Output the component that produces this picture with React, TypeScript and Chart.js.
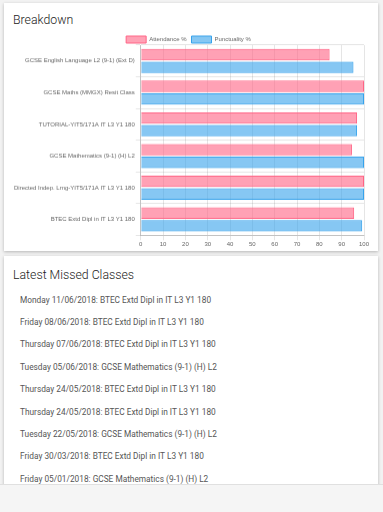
import React, { useEffect, useRef } from "react";
import { Chart, registerables } from "chart.js";

Chart.register(...registerables);

const categories = [
  "GCSE English Language L2 (9-1) (Ext D)",
  "GCSE Maths (MMGX) Resit Class",
  "TUTORIAL-YIT5/171A IT L3 Y1 180",
  "GCSE Mathematics (9-1) (H) L2",
  "Directed Indep. Lrng-YIT5/171A IT L3 Y1 180",
  "BTEC Extd Dipl in IT L3 Y1 180",
];
const attendance = [84.6, 100, 96.9, 94.6, 100, 95.6];
const punctuality = [95.3, 100, 96.9, 100, 100, 99.2];
const seriesNames = ["Attendance %", "Punctuality %"];

const missedClasses = [
  "Monday 11/06/2018: BTEC Extd Dipl in IT L3 Y1 180",
  "Friday 08/06/2018: BTEC Extd Dipl in IT L3 Y1 180",
  "Thursday 07/06/2018: BTEC Extd Dipl in IT L3 Y1 180",
  "Tuesday 05/06/2018: GCSE Mathematics (9-1) (H) L2",
  "Thursday 24/05/2018: BTEC Extd Dipl in IT L3 Y1 180",
  "Thursday 24/05/2018: BTEC Extd Dipl in IT L3 Y1 180",
  "Tuesday 22/05/2018: GCSE Mathematics (9-1) (H) L2",
  "Friday 30/03/2018: BTEC Extd Dipl in IT L3 Y1 180",
  "Friday 05/01/2018: GCSE Mathematics (9-1) (H) L2",
];

const FONT = "'Liberation Sans', Arial, sans-serif";

const legendGap = {
  id: "legendGap",
  beforeUpdate(chart: any) {
    const lg = chart.legend;
    if (lg && !lg.__patched) {
      const orig = lg.fit;
      lg.fit = function () {
        orig.call(this);
        this.height -= 8;
      };
      lg.__patched = true;
    }
  },
};

export default function App() {
  const ref = useRef<HTMLCanvasElement>(null);
  useEffect(() => {
    document.body.style.margin = "0";
    const chart = new Chart(ref.current!, {
      type: "bar",
      data: {
        labels: categories,
        datasets: [
          {
            label: seriesNames[0],
            data: attendance,
            backgroundColor: "rgba(255,99,132,0.6)",
            borderColor: "rgba(255,99,132,1)",
            borderWidth: 1,
          },
          {
            label: seriesNames[1],
            data: punctuality,
            backgroundColor: "rgba(54,162,235,0.6)",
            borderColor: "rgba(54,162,235,1)",
            borderWidth: 1,
          },
        ],
      },
      plugins: [legendGap],
      options: {
        indexAxis: "y",
        animation: false,
        responsive: true,
        maintainAspectRatio: false,
        layout: { padding: { top: 0, right: 11, bottom: 0, left: 0 } },
        color: "#666",
        plugins: {
          legend: {
            position: "top",
            labels: {
              boxWidth: 20,
              boxHeight: 7,
              padding: 5,
              color: "#666",
              font: { size: 6, family: FONT },
            },
          },
          tooltip: { enabled: false },
        },
        scales: {
          x: {
            min: 0,
            max: 100,
            ticks: {
              stepSize: 10,
              color: "#666",
              padding: 0,
              font: { size: 6, family: FONT },
            },
            grid: { color: "rgba(0,0,0,0.1)", tickLength: 5 },
            border: { color: "rgba(0,0,0,0.15)" },
          },
          y: {
            ticks: {
              color: "#666",
              padding: 1,
              font: { size: 6, family: FONT },
            },
            grid: { color: "rgba(0,0,0,0.1)", tickLength: 5, offset: true },
            border: { color: "rgba(0,0,0,0.15)" },
          },
        },
      },
    });
    return () => chart.destroy();
  }, []);

  const card: React.CSSProperties = {
    position: "absolute",
    left: 4,
    width: 374,
    background: "#fff",
    boxShadow: "0 1px 3px rgba(0,0,0,0.25)",
  };
  const heading: React.CSSProperties = {
    position: "absolute",
    left: 9,
    fontFamily: "Roboto, sans-serif",
    fontSize: 12.3,
    fontWeight: 300,
    color: "#222",
    lineHeight: "16px",
    whiteSpace: "nowrap",
  };

  return (
    <div
      style={{
        position: "fixed",
        inset: 0,
        background: "#f2f2f2",
        overflow: "hidden",
      }}
    >
      <div style={{ ...card, top: 3, height: 248 }}>
        <div style={{ ...heading, top: 9 }}>Breakdown</div>
        <div style={{ position: "absolute", left: 9, top: 28, width: 362, height: 215.5 }}>
          <canvas ref={ref} />
        </div>
      </div>
      <div style={{ ...card, top: 256, height: 240 }}>
        <div style={{ ...heading, top: 11 }}>Latest Missed Classes</div>
        {missedClasses.map((t, i) => (
          <div
            key={i}
            style={{
              position: "absolute",
              left: 16,
              top: 37.5 + i * 22.4,
              fontFamily: "Roboto, sans-serif",
              fontSize: 8.3,
              lineHeight: "12px",
              color: "#555",
              whiteSpace: "nowrap",
            }}
          >
            {t}
          </div>
        ))}
      </div>
      <div
        style={{
          position: "absolute",
          left: 0,
          right: 0,
          top: 484,
          bottom: 0,
          background: "#f5f5f5",
          borderTop: "1px solid #e0e0e0",
        }}
      />
    </div>
  );
}
